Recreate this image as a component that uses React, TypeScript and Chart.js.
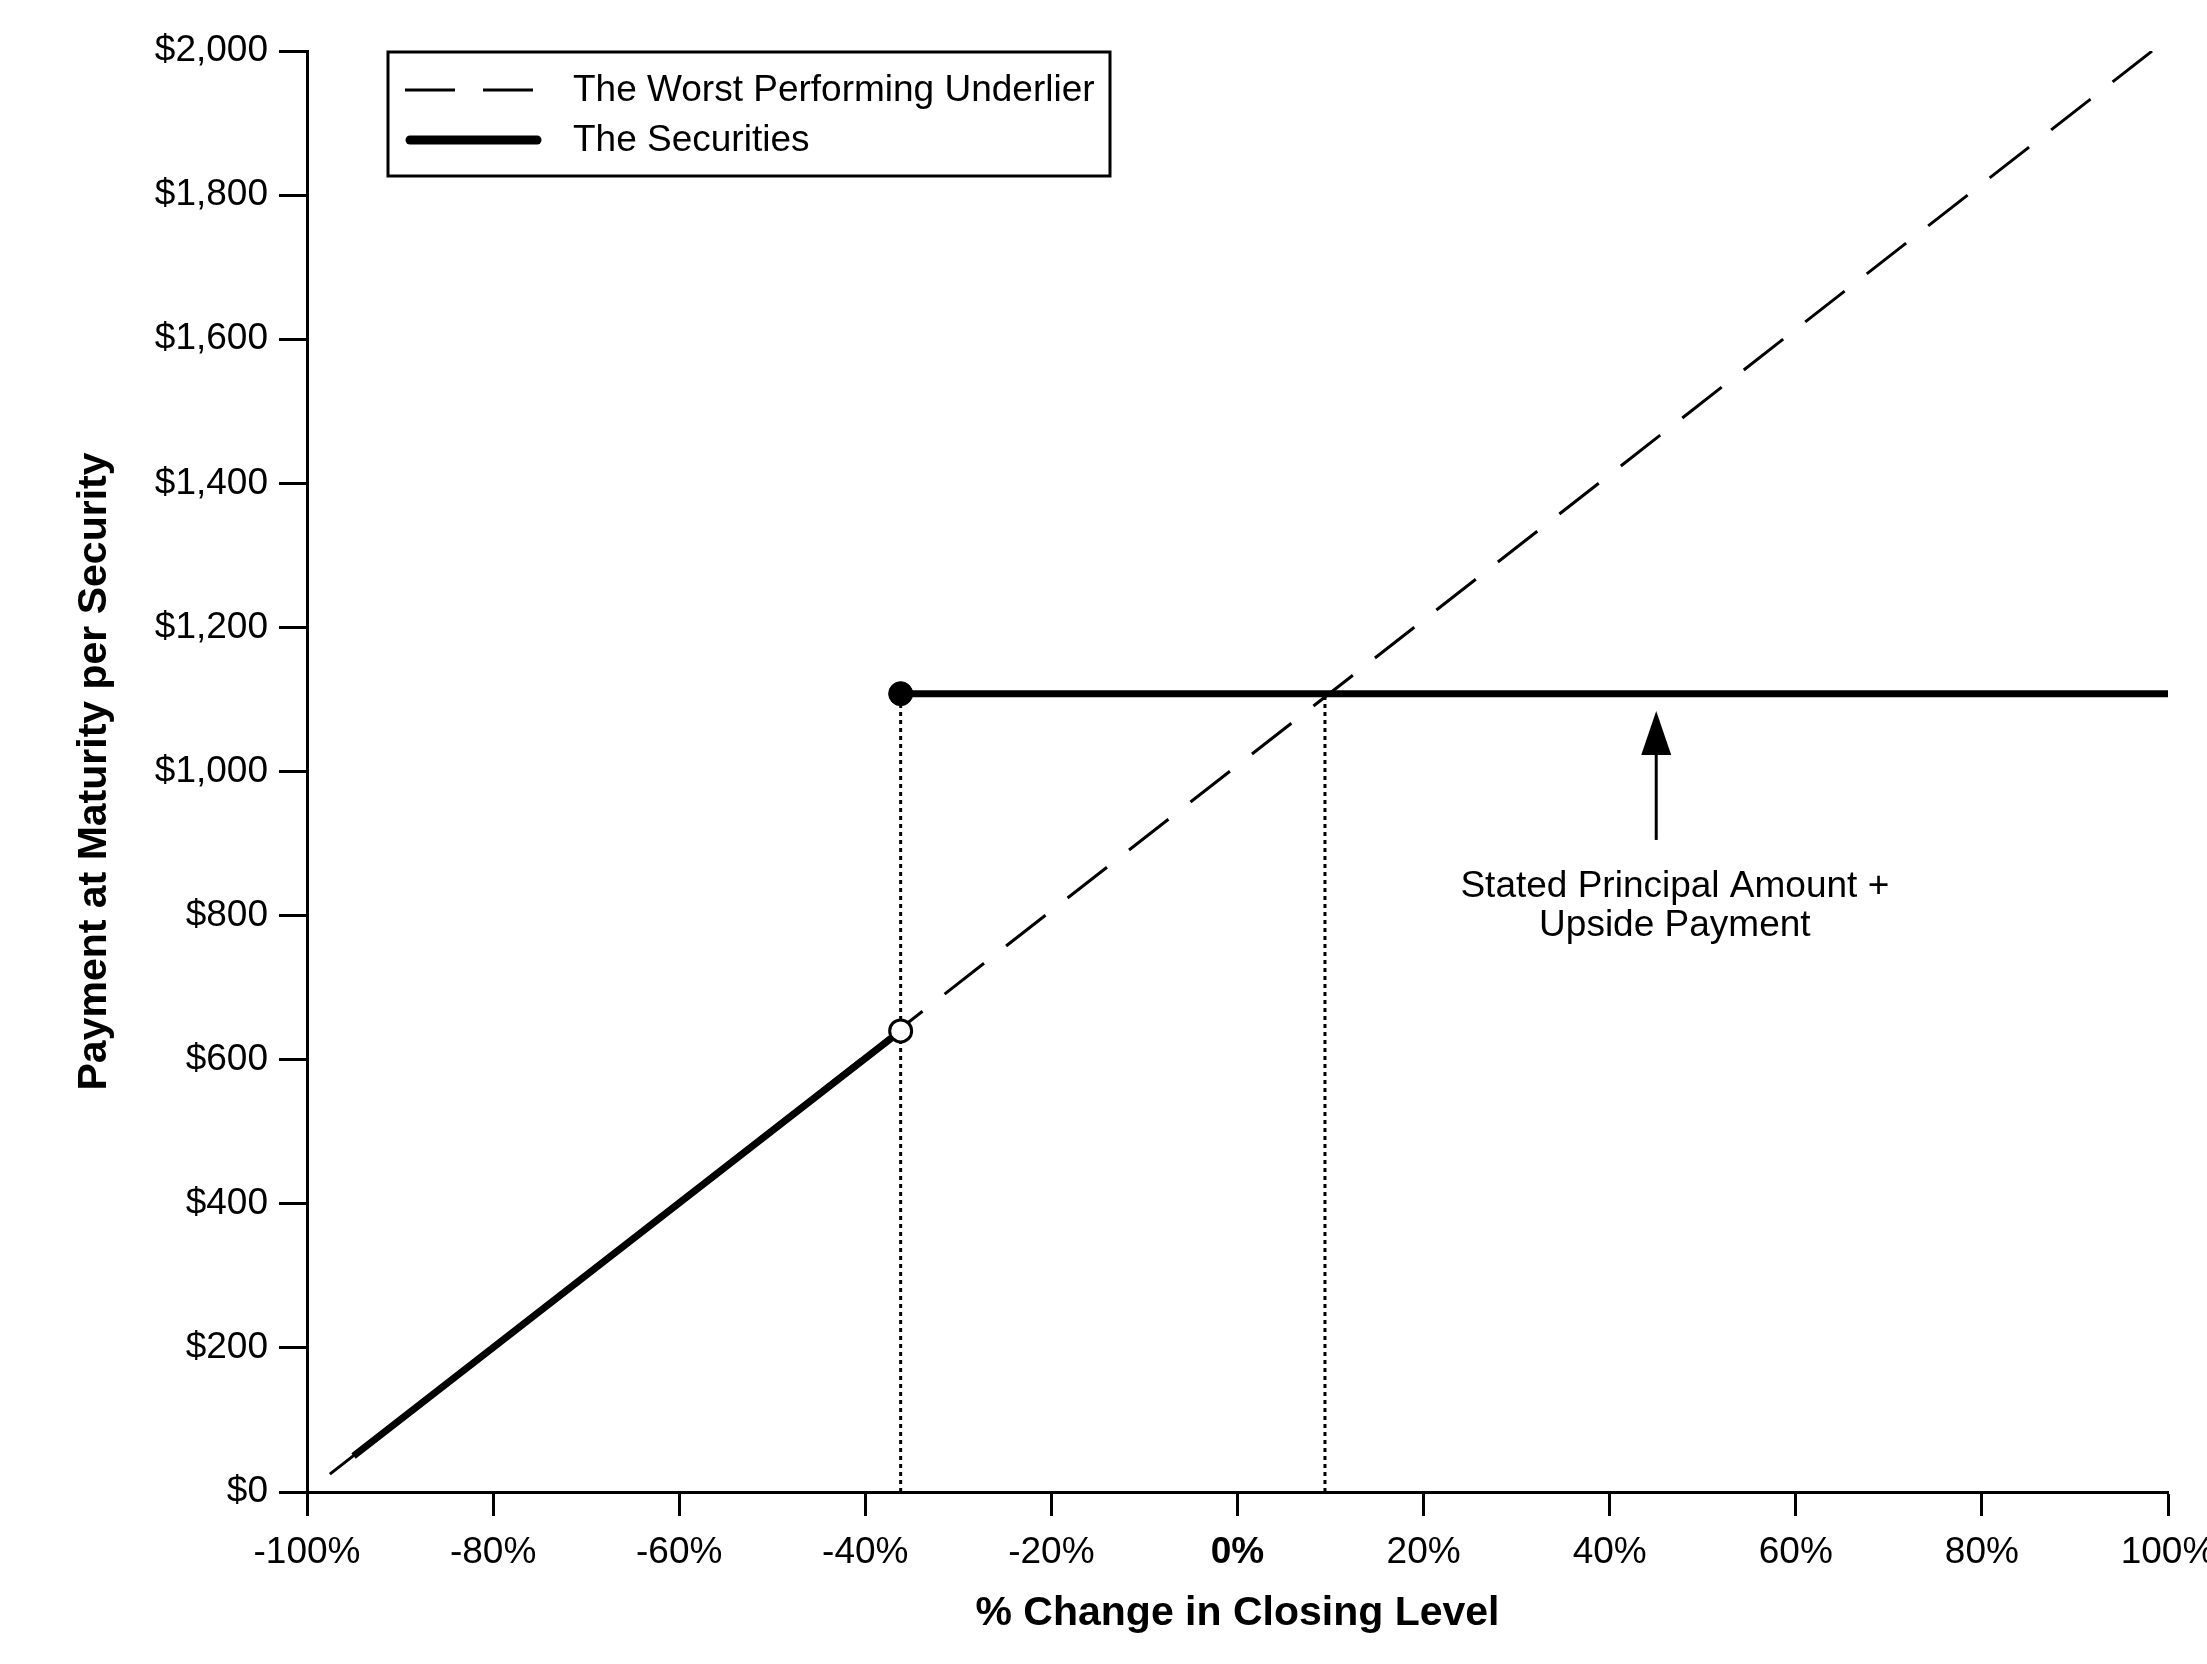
import { useEffect, useRef } from "react";
import { Chart, registerables } from "chart.js";

Chart.register(...registerables);

const FONT = "'Liberation Sans', Arial, Helvetica, sans-serif";

// % change in closing level (x) and payment per security (y)
const underlierX = [-100, 98.3];
const underlierY = [0, 2000];

const securitiesX = [-95, -36.2, -36.2, -36.2, 100];
const securitiesY = [50, 640, null, 1108, 1108];

// dotted guides down to the axis
const guideX = [-36.2, -36.2, -36.2, 9.4, 9.4];
const guideY = [0, 1108, null, 0, 1108];

const filledX = [-36.2];
const filledY = [1108];
const openX = [-36.2];
const openY = [640];

const yTickValues = [0, 200, 400, 600, 800, 1000, 1200, 1400, 1600, 1800, 2000];
const xTickValues = [-100, -80, -60, -40, -20, 0, 20, 40, 60, 80, 100];

const legendNames = ["The Worst Performing Underlier", "The Securities"];
const noteLines = ["Stated Principal Amount +", "Upside Payment"];
// arrow: x, tip, head base, tail (in data units)
const arrowAt = { x: 45, tip: 1084, head: 1023, tail: 905 };
const noteAt = { x: 47, y: [840, 786] };

const pts = (xs: number[], ys: (number | null)[]) => xs.map((x, i) => ({ x, y: ys[i] }));

const legendBox = {
  id: "legendBox",
  afterDraw(chart: any) {
    const { ctx, chartArea } = chart;
    const left = chartArea.left + 81;
    const top = chartArea.top + 1;
    ctx.save();
    ctx.strokeStyle = "#000";
    ctx.lineWidth = 3;
    ctx.setLineDash([]);
    ctx.strokeRect(left, top, 722, 124);
    legendNames.forEach((name, i) => {
      const ds = chart.data.datasets.find((d: any) => d.label === name);
      const y = top + 38 + i * 50;
      ctx.beginPath();
      ctx.setLineDash(ds.borderDash || []);
      ctx.lineDashOffset = 0;
      ctx.lineWidth = i === 0 ? 3 : 9;
      ctx.lineCap = i === 0 ? "butt" : "round";
      ctx.moveTo(left + (i === 0 ? 17 : 22), y);
      ctx.lineTo(left + 149, y);
      ctx.stroke();
      ctx.setLineDash([]);
      ctx.fillStyle = "#000";
      ctx.font = `37px ${FONT}`;
      ctx.textBaseline = "middle";
      ctx.textAlign = "left";
      ctx.fillText(name, left + 185, y + 1);
    });
    ctx.restore();
  },
};

const noteArrow = {
  id: "noteArrow",
  afterDraw(chart: any) {
    const { ctx } = chart;
    const xs = chart.scales.x;
    const ys = chart.scales.y;
    const ax = xs.getPixelForValue(arrowAt.x);
    const tip = ys.getPixelForValue(arrowAt.tip);
    const head = ys.getPixelForValue(arrowAt.head);
    const tail = ys.getPixelForValue(arrowAt.tail);
    ctx.save();
    ctx.strokeStyle = "#000";
    ctx.fillStyle = "#000";
    ctx.lineWidth = 3;
    ctx.beginPath();
    ctx.moveTo(ax, tail);
    ctx.lineTo(ax, head);
    ctx.stroke();
    ctx.beginPath();
    ctx.moveTo(ax, tip);
    ctx.lineTo(ax - 15, head);
    ctx.lineTo(ax + 15, head);
    ctx.closePath();
    ctx.fill();
    ctx.font = `37px ${FONT}`;
    ctx.textAlign = "center";
    ctx.textBaseline = "middle";
    const tx = xs.getPixelForValue(noteAt.x);
    noteLines.forEach((t, i) => ctx.fillText(t, tx, ys.getPixelForValue(noteAt.y[i])));
    ctx.restore();
  },
};

export default function App() {
  const canvasRef = useRef<HTMLCanvasElement>(null);
  const chartRef = useRef<Chart | null>(null);

  useEffect(() => {
    if (chartRef.current) chartRef.current.destroy();
    const canvas = canvasRef.current;
    if (!canvas) return;

    chartRef.current = new Chart(canvas, {
      type: "line",
      data: {
        datasets: [
          {
            label: "filled",
            data: pts(filledX, filledY),
            showLine: false,
            pointRadius: 12,
            pointBackgroundColor: "#000",
            pointBorderColor: "#000",
            pointBorderWidth: 1,
            order: 0,
          },
          {
            label: "open",
            data: pts(openX, openY),
            showLine: false,
            pointRadius: 11,
            pointBackgroundColor: "#fff",
            pointBorderColor: "#000",
            pointBorderWidth: 3,
            order: 0,
          },
          {
            label: "The Securities",
            data: pts(securitiesX, securitiesY),
            borderColor: "#000",
            borderWidth: 7,
            borderCapStyle: "butt",
            pointRadius: 0,
            spanGaps: false,
            order: 1,
          },
          {
            label: "The Worst Performing Underlier",
            data: pts(underlierX, underlierY),
            borderColor: "#000",
            borderWidth: 3,
            borderDash: [50, 28],
            borderDashOffset: 49,
            pointRadius: 0,
            order: 2,
          },
          {
            label: "guides",
            data: pts(guideX, guideY),
            borderColor: "#000",
            borderWidth: 3,
            borderDash: [4, 4],
            pointRadius: 0,
            spanGaps: false,
            order: 3,
          },
        ],
      },
      options: {
        animation: false,
        responsive: true,
        maintainAspectRatio: false,
        events: [],
        layout: { padding: { top: 51, right: 39, bottom: 0, left: 0 } },
        plugins: {
          legend: { display: false },
          tooltip: { enabled: false },
        },
        scales: {
          x: {
            type: "linear",
            min: -100,
            max: 100,
            afterBuildTicks: (scale: any) => {
              scale.ticks = xTickValues.map((value) => ({ value }));
            },
            afterFit: (scale: any) => {
              scale.height = 172;
              scale.paddingLeft = 0;
              scale.paddingRight = 0;
            },
            border: { display: true, color: "#000", width: 3 },
            grid: {
              drawOnChartArea: false,
              drawTicks: true,
              tickLength: 24,
              tickWidth: 3,
              tickColor: "#000",
            },
            ticks: {
              color: "#000",
              padding: 15,
              maxRotation: 0,
              autoSkip: false,
              font: (ctx: any) => ({
                family: FONT,
                size: 37,
                weight: ctx.tick && ctx.tick.value === 0 ? "bold" : "normal",
              }),
              callback: (v: any) => `${v}%`,
            },
            title: {
              display: true,
              text: "% Change in Closing Level",
              color: "#000",
              font: { family: FONT, size: 41, weight: "bold" },
              padding: { top: 0, bottom: 26 },
            },
          },
          y: {
            type: "linear",
            min: 0,
            max: 2000,
            afterBuildTicks: (scale: any) => {
              scale.ticks = yTickValues.map((value) => ({ value }));
            },
            afterFit: (scale: any) => {
              scale.width = 307;
            },
            border: { display: true, color: "#000", width: 3 },
            grid: {
              drawOnChartArea: false,
              drawTicks: true,
              tickLength: 28,
              tickWidth: 3,
              tickColor: "#000",
            },
            ticks: {
              color: "#000",
              padding: 11,
              autoSkip: false,
              font: { family: FONT, size: 37 },
              callback: (v: any) => `$${Number(v).toLocaleString("en-US")}`,
            },
            title: {
              display: true,
              text: "Payment at Maturity per Security",
              color: "#000",
              font: { family: FONT, size: 41, weight: "bold" },
              padding: { top: 70, bottom: 0 },
            },
          },
        },
      },
      plugins: [legendBox, noteArrow],
    });

    return () => {
      if (chartRef.current) {
        chartRef.current.destroy();
        chartRef.current = null;
      }
    };
  }, []);

  return (
    <div style={{ position: "fixed", left: 0, top: 0, width: "100vw", height: "100vh", background: "#fff" }}>
      <canvas ref={canvasRef} />
    </div>
  );
}
